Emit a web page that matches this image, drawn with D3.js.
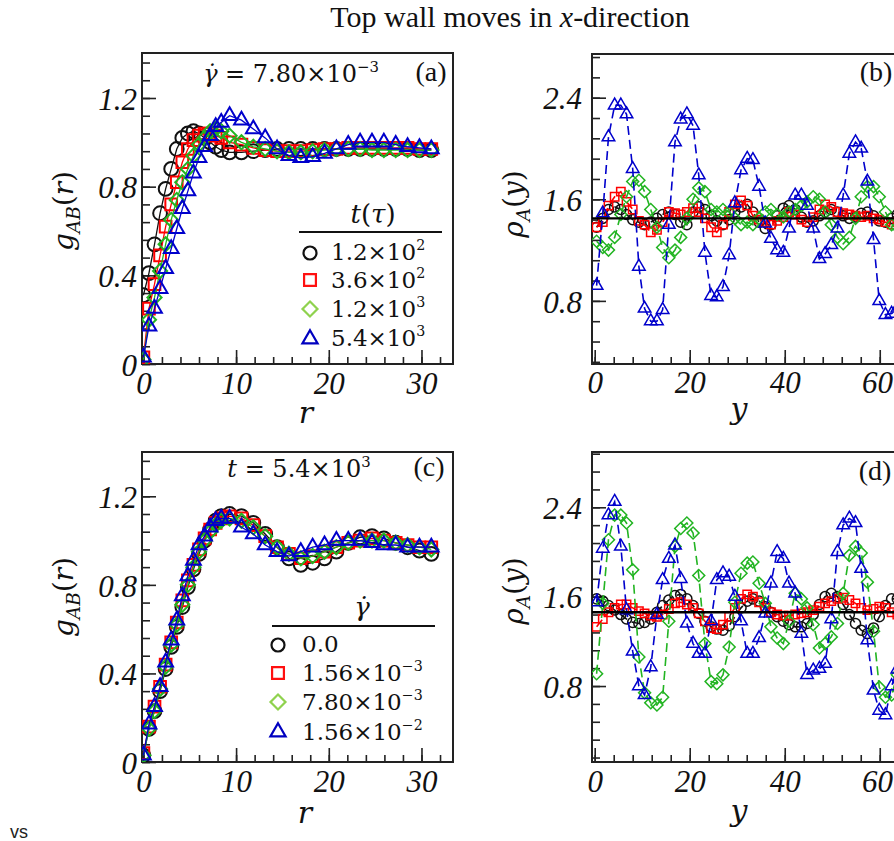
<!DOCTYPE html>
<html><head><meta charset="utf-8">
<script src="https://cdn.jsdelivr.net/npm/d3@7/dist/d3.min.js"></script>
<style>html,body{margin:0;padding:0;background:#fff;}svg{display:block;}</style>
</head><body>
<svg id="chart" width="894" height="841"></svg>
<script>
// ---------------- DATA ----------------
const rValues = [0, 0.6, 1.2, 1.8, 2.4, 3.0, 3.6, 4.2, 4.8, 5.4, 6.0, 6.6, 7.2, 7.8, 8.4, 9.3, 10.58, 11.86, 13.14, 14.42, 15.7, 16.98, 18.26, 19.54, 20.82, 22.1, 23.38, 24.66, 25.94, 27.22, 28.5, 29.78, 31.06];
// panel (a): g_AB(r), shear rate 7.80e-3, different times
const gA_t120  = [0.31, 0.41, 0.54, 0.68, 0.79, 0.88, 0.97, 1.02, 1.04, 1.05, 1.04, 1.02, 1.00, 0.98, 0.965, 0.955, 0.955, 0.96, 0.965, 0.97, 0.97, 0.97, 0.97, 0.97, 0.97, 0.97, 0.97, 0.97, 0.97, 0.97, 0.97, 0.965, 0.965];
const gA_t360  = [0.03, 0.25, 0.36, 0.49, 0.62, 0.72, 0.82, 0.91, 0.97, 1.01, 1.03, 1.04, 1.04, 1.03, 1.02, 1.00, 0.99, 0.975, 0.965, 0.96, 0.96, 0.96, 0.965, 0.97, 0.97, 0.975, 0.975, 0.975, 0.975, 0.975, 0.975, 0.97, 0.97];
const gA_t1200 = [0.02, 0.20, 0.30, 0.42, 0.54, 0.65, 0.74, 0.82, 0.88, 0.94, 0.99, 1.02, 1.05, 1.06, 1.05, 1.03, 1.00, 0.98, 0.97, 0.96, 0.955, 0.955, 0.96, 0.965, 0.97, 0.97, 0.97, 0.965, 0.965, 0.965, 0.965, 0.965, 0.965];
const gA_t5400 = [0.03, 0.17, 0.25, 0.34, 0.43, 0.52, 0.61, 0.70, 0.78, 0.86, 0.93, 0.98, 1.03, 1.07, 1.09, 1.12, 1.10, 1.06, 1.02, 0.97, 0.94, 0.93, 0.935, 0.95, 0.97, 0.99, 1.00, 1.00, 1.00, 0.99, 0.98, 0.975, 0.97];
// panel (c): g_AB(r), t = 5.4e3, different shear rates
const gC_0      = [0.03, 0.15, 0.23, 0.32, 0.42, 0.52, 0.61, 0.70, 0.79, 0.87, 0.94, 1.00, 1.05, 1.09, 1.11, 1.12, 1.11, 1.08, 1.03, 0.97, 0.92, 0.89, 0.90, 0.92, 0.95, 0.99, 1.015, 1.02, 1.01, 0.99, 0.97, 0.955, 0.94];
const gC_156e3  = [0.04, 0.16, 0.25, 0.34, 0.44, 0.54, 0.63, 0.73, 0.82, 0.89, 0.96, 1.01, 1.05, 1.08, 1.10, 1.11, 1.10, 1.07, 1.02, 0.97, 0.94, 0.92, 0.93, 0.95, 0.97, 0.99, 1.00, 1.01, 1.00, 0.99, 0.98, 0.97, 0.97];
const gC_780e3  = [0.03, 0.15, 0.23, 0.33, 0.43, 0.53, 0.62, 0.71, 0.80, 0.88, 0.95, 1.00, 1.04, 1.07, 1.09, 1.10, 1.09, 1.06, 1.02, 0.97, 0.94, 0.92, 0.93, 0.95, 0.97, 0.99, 1.00, 1.00, 1.00, 0.99, 0.98, 0.97, 0.96];
const gC_156e2  = [0.03, 0.17, 0.25, 0.34, 0.45, 0.55, 0.64, 0.75, 0.84, 0.91, 0.98, 1.02, 1.06, 1.09, 1.10, 1.10, 1.06, 1.03, 0.98, 0.95, 0.93, 0.95, 0.97, 0.98, 1.00, 1.00, 1.00, 0.99, 0.98, 0.98, 0.97, 0.97, 0.97];

const yValues = [0.4, 1.7, 2.9, 4.2, 5.5, 6.7, 8.0, 9.3, 10.5, 11.8, 13.1, 14.3, 15.6, 16.9, 18.1, 19.4, 20.7, 21.9, 23.2, 24.5, 25.7, 27.0, 28.3, 29.5, 30.8, 32.1, 33.3, 34.6, 35.9, 37.1, 38.4, 39.7, 40.9, 42.2, 43.5, 44.7, 46.0, 47.3, 48.5, 49.8, 51.1, 52.3, 53.6, 54.9, 56.1, 57.4, 58.7, 59.9, 61.2, 62.5, 63.7, 65.0];
// panel (b): rho_A(y), shear rate 7.80e-3, different times
const rhoB_t120  = [1.38, 1.45, 1.52, 1.54, 1.52, 1.48, 1.44, 1.42, 1.40, 1.42, 1.45, 1.48, 1.50, 1.48, 1.42, 1.40, 1.50, 1.54, 1.52, 1.47, 1.43, 1.40, 1.44, 1.50, 1.54, 1.56, 1.50, 1.42, 1.37, 1.40, 1.47, 1.53, 1.55, 1.52, 1.46, 1.42, 1.43, 1.47, 1.50, 1.52, 1.50, 1.47, 1.45, 1.46, 1.49, 1.50, 1.47, 1.43, 1.42, 1.45, 1.48, 1.50];
const rhoB_t360  = [1.38, 1.42, 1.55, 1.62, 1.66, 1.58, 1.52, 1.43, 1.40, 1.34, 1.36, 1.42, 1.50, 1.49, 1.48, 1.50, 1.53, 1.50, 1.45, 1.38, 1.34, 1.40, 1.50, 1.56, 1.59, 1.55, 1.47, 1.44, 1.42, 1.40, 1.43, 1.46, 1.50, 1.48, 1.44, 1.42, 1.46, 1.52, 1.56, 1.54, 1.50, 1.49, 1.48, 1.47, 1.46, 1.47, 1.45, 1.44, 1.42, 1.40, 1.42, 1.44];
const rhoB_t1200 = [1.27, 1.22, 1.20, 1.30, 1.48, 1.62, 1.74, 1.75, 1.66, 1.52, 1.38, 1.22, 1.14, 1.20, 1.30, 1.45, 1.60, 1.69, 1.66, 1.52, 1.50, 1.52, 1.50, 1.45, 1.40, 1.42, 1.40, 1.45, 1.50, 1.52, 1.48, 1.46, 1.50, 1.52, 1.55, 1.58, 1.62, 1.60, 1.50, 1.40, 1.30, 1.25, 1.30, 1.45, 1.62, 1.70, 1.70, 1.62, 1.50, 1.40, 1.38, 1.40];
const rhoB_t5400 = [0.92, 1.49, 2.09, 2.34, 2.34, 2.27, 1.84, 1.07, 0.74, 0.64, 0.64, 0.73, 1.40, 2.05, 2.23, 2.27, 2.18, 1.79, 1.18, 0.84, 0.83, 0.91, 1.16, 1.57, 1.83, 1.92, 1.91, 1.70, 1.41, 1.29, 1.20, 1.18, 1.37, 1.63, 1.63, 1.55, 1.37, 1.13, 1.17, 1.24, 1.37, 1.63, 1.96, 2.05, 2.00, 1.74, 1.28, 0.80, 0.69, 0.70, 0.74, 1.00];
// panel (d): rho_A(y), t = 5.4e3, different shear rates
const rhoD_0     = [1.58, 1.56, 1.52, 1.48, 1.44, 1.40, 1.37, 1.36, 1.37, 1.40, 1.46, 1.52, 1.57, 1.61, 1.62, 1.58, 1.52, 1.45, 1.38, 1.33, 1.31, 1.30, 1.34, 1.42, 1.50, 1.56, 1.58, 1.56, 1.51, 1.46, 1.42, 1.38, 1.35, 1.33, 1.33, 1.36, 1.44, 1.53, 1.60, 1.63, 1.60, 1.53, 1.44, 1.36, 1.30, 1.27, 1.32, 1.42, 1.52, 1.58, 1.58, 1.55];
const rhoD_156e3 = [1.33, 1.40, 1.46, 1.50, 1.53, 1.53, 1.50, 1.47, 1.45, 1.43, 1.42, 1.44, 1.49, 1.54, 1.55, 1.53, 1.50, 1.45, 1.38, 1.32, 1.31, 1.35, 1.42, 1.50, 1.58, 1.62, 1.60, 1.55, 1.50, 1.46, 1.44, 1.43, 1.43, 1.44, 1.45, 1.46, 1.48, 1.51, 1.54, 1.56, 1.58, 1.59, 1.57, 1.54, 1.50, 1.48, 1.49, 1.51, 1.50, 1.46, 1.44, 1.45];
const rhoD_780e3 = [0.91, 1.54, 2.11, 2.33, 2.33, 2.26, 1.84, 1.06, 0.74, 0.65, 0.63, 0.70, 1.38, 2.05, 2.21, 2.26, 2.17, 1.79, 1.18, 0.84, 0.82, 0.90, 1.15, 1.55, 1.81, 1.90, 1.91, 1.72, 1.54, 1.33, 1.23, 1.18, 1.38, 1.63, 1.58, 1.50, 1.35, 1.14, 1.18, 1.24, 1.36, 1.63, 1.97, 2.05, 1.99, 1.73, 1.29, 0.79, 0.70, 0.72, 0.90, 1.20];
const rhoD_156e2 = [1.55, 2.03, 2.33, 2.45, 2.05, 1.48, 1.11, 0.80, 0.72, 0.97, 1.44, 1.75, 1.94, 2.06, 1.76, 1.36, 1.18, 1.09, 1.09, 1.38, 1.75, 1.81, 1.78, 1.60, 1.38, 1.09, 1.09, 1.23, 1.45, 1.72, 2.00, 1.94, 1.72, 1.63, 1.27, 0.90, 0.94, 0.955, 1.00, 1.40, 2.00, 2.24, 2.30, 2.26, 1.85, 1.21, 0.76, 0.58, 0.54, 0.80, 0.95, 1.20];
const bulkB = 1.45, bulkD = 1.46;

const legendTimes = ["1.2×10^2", "3.6×10^2", "1.2×10^3", "5.4×10^3"];
const legendRates = ["0.0", "1.56×10^−3", "7.80×10^−3", "1.56×10^−2"];
const gTicksX = [0, 10, 20, 30], gTicksY = [0, 0.4, 0.8, 1.2];
const rTicksX = [0, 20, 40, 60], rTicksY = [0.8, 1.6, 2.4];

// ---------------- STYLE ----------------
const TIMES = "'Liberation Serif','Times New Roman',serif";
const MATH = "'DejaVu Serif',serif";
const COL = {black: "#111111", red: "#ff0000", green: "#22b422", blue: "#0000cc"};
const LEGCOL = {black: "#111111", red: "#ff1010", green: "#8fd24e", blue: "#0000c0"};
const SHAPE = {circle: d3.symbolCircle, square: d3.symbolSquare, diamond: d3.symbolSquare, triangle: d3.symbolTriangle};
const bigSize = {circle: 150, square: 136, diamond: 100, triangle: 94};
const smallSize = {circle: 80, square: 70, diamond: 72, triangle: 68};
const legSize = {circle: 133, square: 140, diamond: 112, triangle: 100};
const W = 894;

const svg = d3.select("#chart");
svg.append("rect").attr("width", 894).attr("height", 841).attr("fill", "#fff");

function rich(sel, parts, fs) {
  let shift = 0;
  parts.forEach(p => {
    const ts = sel.append("tspan").text(p.t);
    let target = p.sup ? -0.42 * fs : (p.sub ? 0.24 * fs : 0);
    const dy = target - shift;
    if (Math.abs(dy) > 1e-6) ts.attr("dy", dy);
    shift = target;
    if (p.sup) ts.attr("font-size", 0.62 * fs);
    if (p.sub) ts.attr("font-size", 0.66 * fs);
    if (p.it) ts.attr("font-style", "italic");
  });
}
function expParts(s) {
  const i = s.indexOf("^");
  if (i < 0) return [{t: s}];
  return [{t: s.slice(0, i)}, {t: s.slice(i + 1), sup: true}];
}
function drawSym(g, shape, cx, cy, size, color, sw) {
  g.append("path")
    .attr("d", d3.symbol().type(SHAPE[shape]).size(size[shape])())
    .attr("transform", `translate(${cx},${cy})` + (shape === "diamond" ? " rotate(45)" : ""))
    .attr("fill", "none").attr("stroke", color).attr("stroke-width", sw);
}

let clipId = 0;
function makePanel(cfg) {
  const g = svg.append("g");
  const x = d3.scaleLinear().domain(cfg.xd).range([cfg.x0, cfg.x0 + cfg.w]);
  const y = d3.scaleLinear().domain(cfg.yd).range([cfg.y0 + cfg.h, cfg.y0]);
  const inY = v => v >= cfg.yd[0] - 1e-9 && v <= cfg.yd[1];
  const inX = v => v >= cfg.xd[0] && v <= cfg.xd[1];
  const yMin = d3.range(0, 3, cfg.yMinStep).map(v => +v.toFixed(3)).filter(inY);
  const xMin = d3.range(0, 80, cfg.xMinStep).filter(inX);
  const axes = g.append("g").attr("color", "#222");
  axes.append("g").attr("transform", `translate(${cfg.x0},0)`)
    .call(d3.axisLeft(y).tickValues(yMin).tickSize(-8).tickFormat(""));
  axes.append("g").attr("transform", `translate(0,${cfg.y0 + cfg.h})`)
    .call(d3.axisBottom(x).tickValues(xMin).tickSize(-7).tickFormat(""));
  const ay = axes.append("g").attr("transform", `translate(${cfg.x0},0)`)
    .call(d3.axisLeft(y).tickValues(cfg.yMaj).tickSize(-14).tickPadding(cfg.yPad).tickFormat(cfg.yFmt));
  const ax = axes.append("g").attr("transform", `translate(0,${cfg.y0 + cfg.h})`)
    .call(d3.axisBottom(x).tickValues(cfg.xMaj).tickSize(-14).tickPadding(cfg.xPad).tickFormat(d3.format("d")));
  axes.selectAll(".domain").remove();
  axes.selectAll(".tick line").attr("stroke-width", 1.6);
  [ay, ax].forEach(a => a.selectAll("text").style("font-family", TIMES).style("font-style", "italic")
      .style("font-size", "31px").attr("fill", "#111"));
  ay.selectAll("text").attr("dy", "0.36em");
  ax.selectAll("text").attr("dy", "0.7em");
  // keep the last x tick label inside the picture (it sits at the cropped right edge)
  ax.selectAll(".tick text").each(function (d) {
    const b = this.getBBox();
    const right = x(d) + b.x + b.width;
    if (right > W - 1) d3.select(this).attr("x", (W - 1) - right);
  });
  g.append("rect").attr("x", cfg.x0).attr("y", cfg.y0).attr("width", cfg.w).attr("height", cfg.h)
    .attr("fill", "none").attr("stroke", "#222").attr("stroke-width", 2);
  const id = "clip" + (clipId++);
  svg.append("clipPath").attr("id", id).append("rect")
    .attr("x", cfg.x0).attr("y", cfg.y0).attr("width", cfg.w).attr("height", cfg.h);
  const data = g.append("g").attr("clip-path", `url(#${id})`);
  return {g, x, y, data};
}

function plotSeries(P, xs, series, size, sw, dashed) {
  series.forEach(s => {
    const pts = xs.map((xv, i) => [P.x(xv), P.y(s.v[i])]);
    P.data.append("path").attr("d", d3.line()(pts)).attr("fill", "none")
      .attr("stroke", COL[s.c]).attr("stroke-width", dashed ? 1.6 : 1.3)
      .attr("stroke-dasharray", dashed ? "9,5" : null);
    const mg = P.data.append("g");
    pts.forEach(p => drawSym(mg, s.s, p[0], p[1], size, COL[s.c], sw));
  });
}

const fmtG = d => d === 0 ? "0" : d3.format(".1f")(d);

// ---- Panel (a)
const PA = makePanel({x0: 142, y0: 53, w: 311, h: 311, xd: [-0.15, 33.4], yd: [0, 1.403],
  xMaj: gTicksX, yMaj: gTicksY, xMinStep: 2, yMinStep: 0.08, yPad: 5, xPad: 8, yFmt: fmtG});
const serA = [
  {v: gA_t120, c: "black", s: "circle"}, {v: gA_t360, c: "red", s: "square"},
  {v: gA_t1200, c: "green", s: "diamond"}, {v: gA_t5400, c: "blue", s: "triangle"}];
plotSeries(PA, rValues, serA, bigSize, 2, false);

// ---- Panel (c)
const PC = makePanel({x0: 142, y0: 452, w: 311, h: 310, xd: [-0.15, 33.4], yd: [0, 1.40],
  xMaj: gTicksX, yMaj: gTicksY, xMinStep: 2, yMinStep: 0.08, yPad: 5, xPad: 8.5, yFmt: fmtG});
const serC = [
  {v: gC_0, c: "black", s: "circle"}, {v: gC_156e3, c: "red", s: "square"},
  {v: gC_780e3, c: "green", s: "diamond"}, {v: gC_156e2, c: "blue", s: "triangle"}];
plotSeries(PC, rValues, serC, bigSize, 2, false);

// ---- Panel (b)
const PB = makePanel({x0: 592, y0: 54, w: 340, h: 310, xd: [-0.57, 71], yd: [0.303, 2.744],
  xMaj: rTicksX, yMaj: rTicksY, xMinStep: 4, yMinStep: 0.16, yPad: 10, xPad: 7, yFmt: d3.format(".1f")});
const serB = [
  {v: rhoB_t120, c: "black", s: "circle"}, {v: rhoB_t360, c: "red", s: "square"},
  {v: rhoB_t1200, c: "green", s: "diamond"}, {v: rhoB_t5400, c: "blue", s: "triangle"}];
plotSeries(PB, yValues, serB, smallSize, 1.5, true);
PB.data.append("line").attr("x1", PB.x(-0.57)).attr("x2", PB.x(71)).attr("y1", PB.y(bulkB)).attr("y2", PB.y(bulkB))
  .attr("stroke", "#000").attr("stroke-width", 2.4);

// ---- Panel (d)
const PD = makePanel({x0: 592, y0: 452, w: 340, h: 310, xd: [-0.57, 71], yd: [0.12, 2.895],
  xMaj: rTicksX, yMaj: rTicksY, xMinStep: 4, yMinStep: 0.16, yPad: 10, xPad: 8.5, yFmt: d3.format(".1f")});
const serD = [
  {v: rhoD_0, c: "black", s: "circle"}, {v: rhoD_156e3, c: "red", s: "square"},
  {v: rhoD_780e3, c: "green", s: "diamond"}, {v: rhoD_156e2, c: "blue", s: "triangle"}];
plotSeries(PD, yValues, serD, smallSize, 1.5, true);
PD.data.append("line").attr("x1", PD.x(-0.57)).attr("x2", PD.x(71)).attr("y1", PD.y(bulkD)).attr("y2", PD.y(bulkD))
  .attr("stroke", "#000").attr("stroke-width", 2.4);

// ---------------- TEXT ----------------
function txt(x, y, parts, fs, font, anchor, rot) {
  const t = svg.append("text").attr("font-family", font).attr("font-size", fs).attr("fill", "#111")
    .attr("text-anchor", anchor || "start");
  if (rot) t.attr("transform", `translate(${x},${y}) rotate(${rot})`);
  else t.attr("x", x).attr("y", y);
  rich(t, parts, fs);
  return t;
}
// title
txt(510, 27, [{t: "Top wall moves in "}, {t: "x", it: true}, {t: "-direction"}], 30, TIMES, "middle");
// panel labels
txt(431, 81, [{t: "(a)"}], 28, TIMES, "middle");
txt(876, 81, [{t: "(b)"}], 28, TIMES, "middle");
txt(429, 476, [{t: "(c)"}], 28, TIMES, "middle");
txt(875, 480, [{t: "(d)"}], 28, TIMES, "middle");
// annotations
txt(291, 82, [{t: "γ\u0307", it: true}, {t: " = 7.80×10"}, {t: "−3", sup: true}], 24, MATH, "middle");
txt(299, 477, [{t: "t", it: true}, {t: " = 5.4×10"}, {t: "3", sup: true}], 24, MATH, "middle");
// axis titles
txt(73, 211, [{t: "g", it: true}, {t: "AB", sub: true, it: true}, {t: "("}, {t: "r", it: true}, {t: ")"}], 28, MATH, "middle", -90);
txt(73, 597, [{t: "g", it: true}, {t: "AB", sub: true, it: true}, {t: "("}, {t: "r", it: true}, {t: ")"}], 28, MATH, "middle", -90);
txt(523, 204, [{t: "ρ", it: true}, {t: "A", sub: true, it: true}, {t: "("}, {t: "y", it: true}, {t: ")"}], 28, MATH, "middle", -90);
txt(523, 591, [{t: "ρ", it: true}, {t: "A", sub: true, it: true}, {t: "("}, {t: "y", it: true}, {t: ")"}], 28, MATH, "middle", -90);
txt(306, 423, [{t: "r", it: true}], 30, MATH, "middle");
txt(305, 823, [{t: "r", it: true}], 30, MATH, "middle");
txt(739, 419, [{t: "y", it: true}], 30, MATH, "middle");
txt(739, 821, [{t: "y", it: true}], 30, MATH, "middle");
// vs
svg.append("text").attr("x", 10).attr("y", 838).attr("font-family", "'Liberation Sans',Arial,sans-serif")
  .attr("font-size", 18).attr("fill", "#222").text("vs");

// ---------------- LEGENDS ----------------
const legShapes = [["black", "circle"], ["red", "square"], ["green", "diamond"], ["blue", "triangle"]];
function legend(title, labels, lineX1, lineX2, lineY, titleX, titleY, symX, textX, symYs, baseYs) {
  txt(titleX, titleY, title, 26, MATH, "middle");
  svg.append("line").attr("x1", lineX1).attr("x2", lineX2).attr("y1", lineY).attr("y2", lineY)
    .attr("stroke", "#111").attr("stroke-width", 2);
  labels.forEach((lab, i) => {
    drawSym(svg, legShapes[i][1], symX, symYs[i], legSize, LEGCOL[legShapes[i][0]], 2.2);
    txt(textX, baseYs[i], expParts(lab), 23, MATH, "start");
  });
}
legend([{t: "t", it: true}, {t: "("}, {t: "τ", it: true}, {t: ")"}], legendTimes,
  299, 442, 232, 373, 223, 310, 331, [253, 280, 309, 339], [260, 288, 317, 346]);
legend([{t: "γ\u0307", it: true}], legendRates,
  272, 435, 626, 362, 616, 278, 302, [645, 673, 702, 732], [652, 681, 710, 740]);
</script>
</body></html>
